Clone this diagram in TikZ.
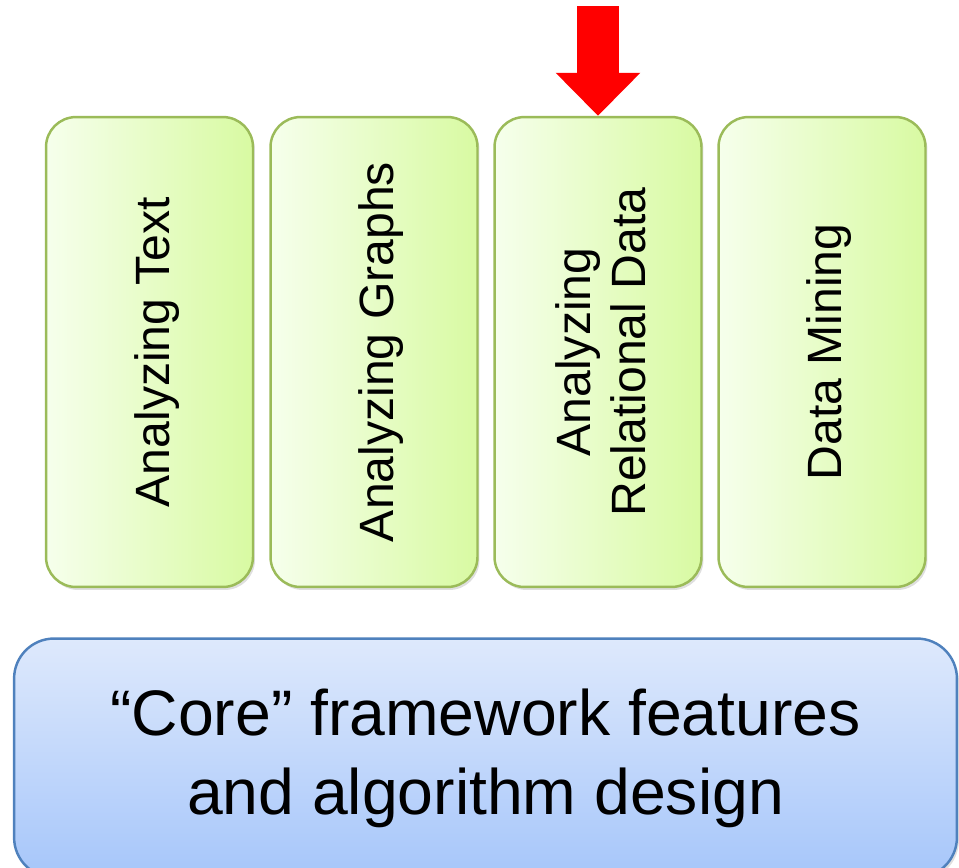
\documentclass[tikz,border=0pt]{standalone}
\usepackage{fontspec}
\setmainfont{Liberation Sans}
\usepackage{xcolor}
\usepackage{tikz}
\usetikzlibrary{arrows.meta,shadows}
\definecolor{greenleft}{RGB}{246,255,236}
\definecolor{greenright}{RGB}{216,250,162}
\definecolor{greenborder}{RGB}{155,187,89}
\definecolor{bluetop}{RGB}{222,233,252}
\definecolor{bluebottom}{RGB}{166,198,250}
\definecolor{blueborder}{RGB}{79,129,189}
\newcommand{\vlabel}[1]{\hspace*{0.36cm}\rotatebox{90}{\begin{tabular}{@{}c@{}}#1\end{tabular}}}
\tikzset{
  topic box/.style={
    draw=greenborder, line width=1.4pt,
    left color=greenleft, right color=greenright,
    rounded corners=0.6cm,
    minimum width=4.14cm, minimum height=9.4cm,
    inner sep=0pt,
    font=\fontsize{27.4}{31}\selectfont,
    drop shadow={opacity=0.25,shadow xshift=0.04cm,shadow yshift=-0.06cm},
  },
  core box/.style={
    draw=blueborder, line width=1.4pt,
    top color=bluetop, bottom color=bluebottom,
    rounded corners=0.8cm,
    minimum width=18.86cm, minimum height=4.78cm,
    align=center,
    font=\fontsize{36.6}{45}\selectfont,
    drop shadow={opacity=0.25,shadow xshift=0.04cm,shadow yshift=-0.06cm},
  },
  pointer/.style={
    draw=red, line width=0.84cm,
    -{Triangle[width=1.64cm,length=0.86cm,fill=red]},
  },
}

\begin{document}
\begin{tikzpicture}[x=0.02cm,y=-0.02cm]
    \useasboundingbox (0,0) rectangle (959,867);
    \clip (0,0) rectangle (959,867);

    \begin{scope}[every node/.style={topic box}]
        \node (text) at (149.5,352) {\vlabel{Analyzing Text}};
        \node (graphs) at (374,352) {\vlabel{Analyzing Graphs}};
        \node (relational) at (598,352) {\vlabel{Analyzing\\Relational Data}};
        \node (mining) at (822,352) {\vlabel{Data Mining}};
    \end{scope}

    \node[core box] (core) at (485.5,758) {“Core” framework features\\and algorithm design};

    \coordinate (pointer top) at (598,6);
    \draw[pointer] (pointer top) -- (relational.north);
\end{tikzpicture}
\end{document}
